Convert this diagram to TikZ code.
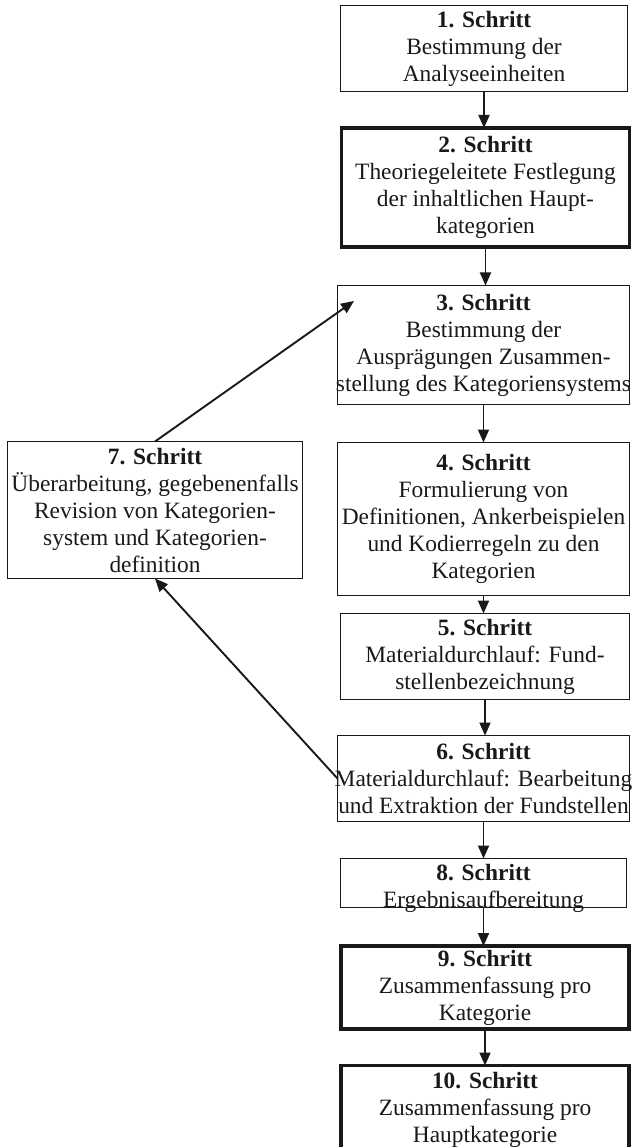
\documentclass[tikz,border=0pt]{standalone}
\usepackage{fontspec}
\setmainfont{Liberation Serif}
\usetikzlibrary{arrows.meta}
\begin{document}
\begin{tikzpicture}[x=1pt,y=-1pt,
  stepbox/.style={draw=black!90, line width=1.9pt, inner sep=0pt, outer sep=0pt},
  thickbox/.style={stepbox, line width=3.3pt},
  steptext/.style={inner sep=0pt, align=center, font=\fontsize{23.4}{27}\selectfont, text=black!90},
  arr/.style={line width=1.9pt, draw=black!90, -{Triangle[length=13pt,width=11pt]}}
]
\useasboundingbox (0,0) rectangle (632,1147);
% boxes
\node[stepbox, minimum width=287, minimum height=86] (s1) at (484,48.5) {};
\node[thickbox, minimum width=288, minimum height=119] (s2) at (485.5,187.5) {};
\node[stepbox, minimum width=292, minimum height=119] (s3) at (483.5,345) {};
\node[stepbox, minimum width=295, minimum height=137] (s7) at (155,510) {};
\node[stepbox, minimum width=292, minimum height=153] (s4) at (483.5,519) {};
\node[stepbox, minimum width=289, minimum height=86] (s5) at (485,656.5) {};
\node[stepbox, minimum width=292, minimum height=86] (s6) at (483.5,778.5) {};
\node[stepbox, minimum width=286, minimum height=49] (s8) at (483.5,883) {};
\node[thickbox, minimum width=288, minimum height=83] (s9) at (485,987.5) {};
\node[thickbox, minimum width=288, minimum height=85] (s10) at (485,1108) {};
% texts
\node[steptext] (t1) at (s1) {\textbf{1. Schritt}\\Bestimmung der\\Analyseeinheiten};
\node[steptext] (t2) at (s2) {\textbf{2. Schritt}\\Theoriegeleitete Festlegung\\der inhaltlichen Haupt-\\kategorien};
\node[steptext] (t3) at (s3) {\textbf{3. Schritt}\\Bestimmung der\\Ausprägungen Zusammen-\\stellung des Kategoriensystems};
\node[steptext] (t7) at (s7) {\textbf{7. Schritt}\\Überarbeitung, gegebenenfalls\\Revision von Kategorien-\\system und Kategorien-\\definition};
\node[steptext] (t4) at (s4) {\textbf{4. Schritt}\\Formulierung von\\Definitionen, Ankerbeispielen\\und Kodierregeln zu den\\Kategorien};
\node[steptext] (t5) at (s5) {\textbf{5. Schritt}\\Materialdurchlauf: Fund-\\stellenbezeichnung};
\node[steptext] (t6) at (s6) {\textbf{6. Schritt}\\Materialdurchlauf: Bearbeitung\\und Extraktion der Fundstellen};
\node[steptext] (t8) at ([yshift=-5]s8.center) {\textbf{8. Schritt}\\Ergebnisaufbereitung};
\node[steptext] (t9) at (s9) {\textbf{9. Schritt}\\Zusammenfassung pro\\Kategorie};
\node[steptext] (t10) at ([yshift=-2]s10.center) {\textbf{10. Schritt}\\Zusammenfassung pro\\Hauptkategorie};
% connectors
\draw[arr] (s1.south) -- (s1.south |- s2.north);
\draw[arr] (s2.south) -- (s2.south |- s3.north);
\draw[arr] (s3.south) -- (s3.south |- s4.north);
\draw[arr] (s4.south) -- (s4.south |- s5.north);
\draw[arr] (s5.south) -- (s5.south |- s6.north);
\draw[arr] (s6.south) -- (s6.south |- s8.north);
\draw[arr] (s8.south) -- (s8.south |- s9.north);
\draw[arr] (s9.south) -- (s9.south |- s10.north);
\coordinate (tip3) at (354,301);
\draw[arr] (s7.north) -- (tip3);
\draw[arr] (s6.west) -- (s7.south);
\end{tikzpicture}
\end{document}
